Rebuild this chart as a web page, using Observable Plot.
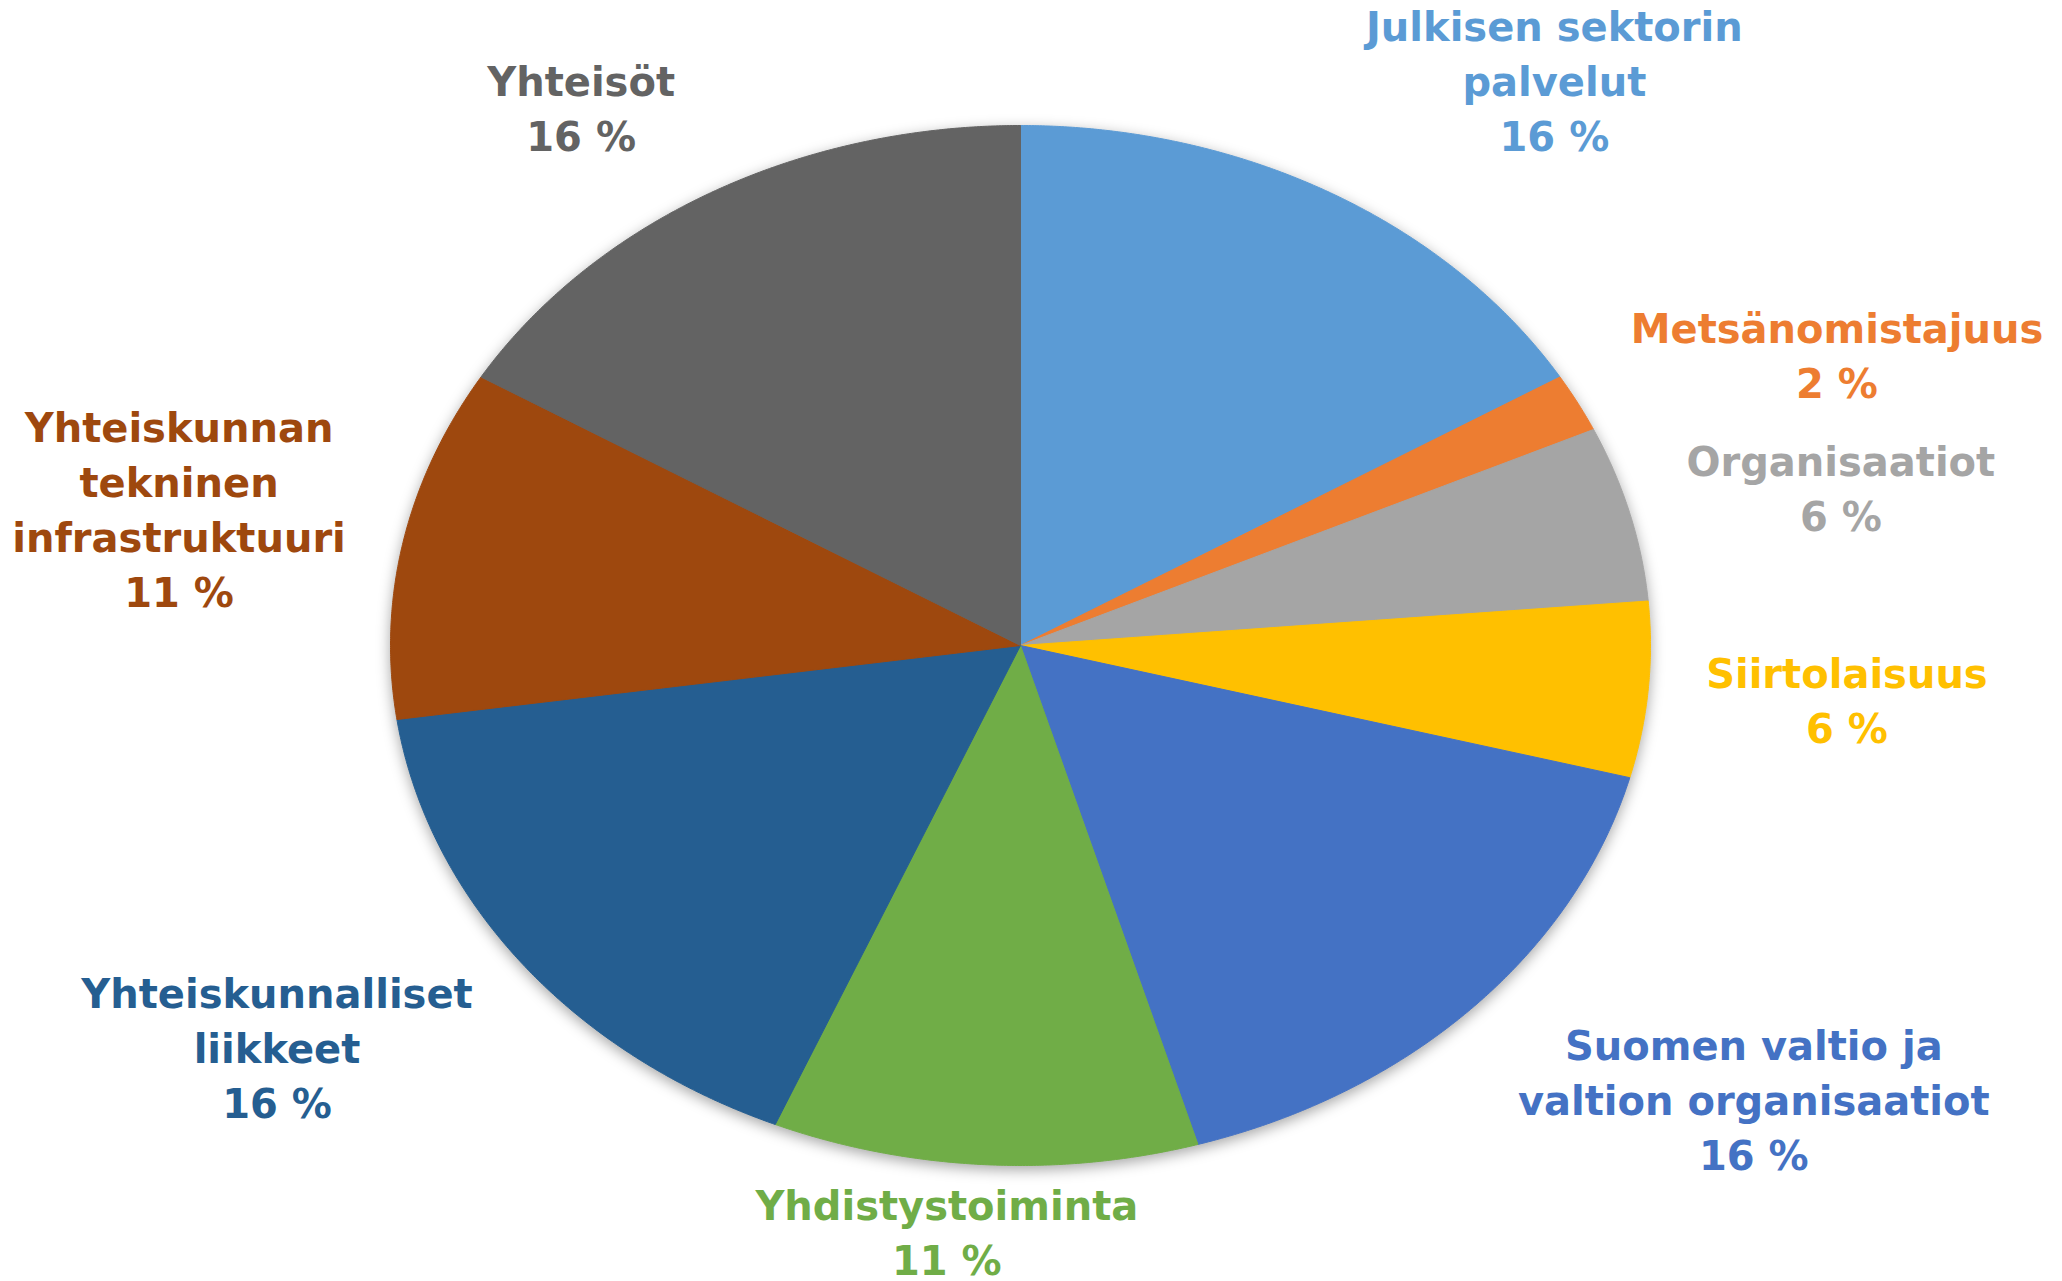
<!DOCTYPE html>
<html>
<head>
<meta charset="utf-8">
<script src="https://cdn.jsdelivr.net/npm/d3@7"></script>
<script src="https://cdn.jsdelivr.net/npm/@observablehq/plot@0.6"></script>
<style>
  html, body { margin: 0; padding: 0; background: #fff; }
  #chart svg g[aria-label="line"] { filter: drop-shadow(0px 4px 7px rgba(0,0,0,0.35)); }
</style>
</head>
<body>
<div id="chart"></div>
<script>
// Categories (clockwise from 12 o'clock)
const names = [
  "Julkisen sektorin palvelut",
  "Metsänomistajuus",
  "Organisaatiot",
  "Siirtolaisuus",
  "Suomen valtio ja valtion organisaatiot",
  "Yhdistystoiminta",
  "Yhteiskunnalliset liikkeet",
  "Yhteiskunnan tekninen infrastruktuuri",
  "Yhteisöt"
];
// Label text as wrapped in the chart
const labelLines = [
  "Julkisen sektorin\npalvelut",
  "Metsänomistajuus",
  "Organisaatiot",
  "Siirtolaisuus",
  "Suomen valtio ja\nvaltion organisaatiot",
  "Yhdistystoiminta",
  "Yhteiskunnalliset\nliikkeet",
  "Yhteiskunnan\ntekninen\ninfrastruktuuri",
  "Yhteisöt"
];
// Slice sizes
const values = [9, 1, 3, 3, 9, 6, 9, 6, 9];
// Percent labels as printed
const percents = [16, 2, 6, 6, 16, 11, 16, 11, 16];
const colors = ["#5B9BD5", "#ED7D31", "#A5A5A5", "#FFC000", "#4472C4", "#70AD47", "#255E91", "#9E480E", "#636363"];

const W = 2062, H = 1281;
const cx = 1020, cy = 645, rx = 630, ry = 520;
const fontSize = 40, lineH = 55;
const font = `bold ${fontSize}px "DejaVu Sans"`;

const pie = d3.pie().sort(null).value(d => d)(values);

// slice outlines in unit-circle data space
const slicePts = [];
pie.forEach((p, i) => {
  const a0 = p.startAngle, a1 = p.endAngle;
  const n = Math.max(4, Math.ceil((a1 - a0) / (Math.PI / 720)));
  slicePts.push({name: names[i], x: 0, y: 0});
  for (let k = 0; k <= n; k++) {
    const a = a0 + (a1 - a0) * k / n;
    slicePts.push({name: names[i], x: Math.sin(a), y: Math.cos(a)});
  }
  slicePts.push({name: names[i], x: 0, y: 0});
});

// label placement, computed from slice mid-angle and text size
const ctx = document.createElement("canvas").getContext("2d");
ctx.font = font;
const clamp = (v) => Math.max(-1, Math.min(1, v));
const labels = pie.map((p, i) => {
  const text = labelLines[i] + "\n" + percents[i] + " %";
  const lines = text.split("\n");
  const w = d3.max(lines, l => ctx.measureText(l).width);
  const h = lines.length * lineH;
  const a = (p.startAngle + p.endAngle) / 2;
  const c = Math.cos(a), s = Math.sin(a);
  const r0x = 1.07, r0y = c < 0 ? 1.02 : 1.07;
  const ax = s * r0x * rx, ay = c * r0y * ry; // px offsets (y up)
  const sx = clamp(s * 3), sy = clamp(c * (c < 0 ? 1.5 : 1.3));
  const px = ax + sx * (w / 2 + 14), py = ay + sy * (h / 2);
  return {name: names[i], text, x: px / rx, y: py / ry};
});

const chart = Plot.plot({
  width: W,
  height: H,
  margin: 0,
  x: {domain: [-1, 1], range: [cx - rx, cx + rx], axis: null},
  y: {domain: [-1, 1], range: [cy + ry, cy - ry], axis: null},
  color: {domain: names, range: colors},
  style: {background: "#fff"},
  marks: [
    Plot.line(slicePts, {x: "x", y: "y", z: "name", fill: "name", stroke: "name", strokeWidth: 1, curve: "linear"}),
    Plot.text(labels, {
      x: "x", y: "y", text: "text", fill: "name",
      fontSize: fontSize, fontWeight: "bold", fontFamily: "DejaVu Sans",
      lineHeight: lineH / fontSize, textAnchor: "middle", lineAnchor: "middle"
    })
  ]
});
document.getElementById("chart").appendChild(chart);
</script>
</body>
</html>
